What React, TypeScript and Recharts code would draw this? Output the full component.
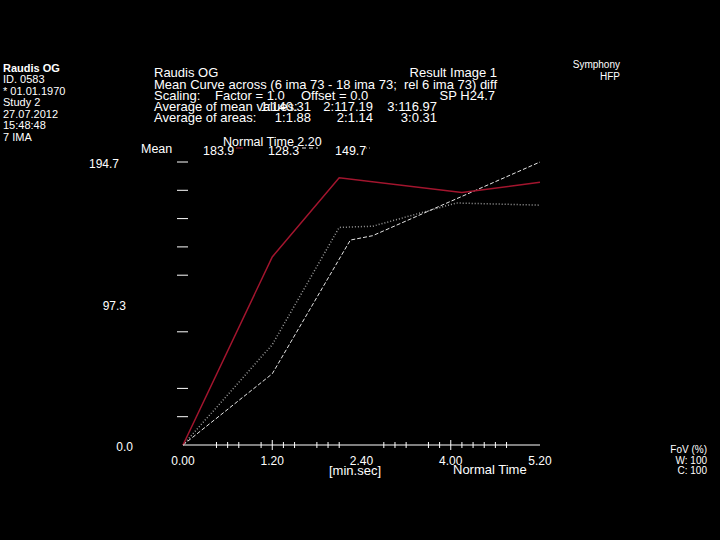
import { Line, LineChart, XAxis, YAxis } from "recharts";

// times in seconds, values in mean signal units
const RED_TIME = [0, 80, 140, 250, 320];
const RED_VALUE = [0, 129.4, 183.9, 173.7, 180.8];

const WHITE_TIME = [0, 80, 150, 170, 320];
const WHITE_VALUE = [0, 49, 141, 144, 194.7];

const GREY_TIME = [0, 80, 140, 170, 245, 320];
const GREY_VALUE = [0, 69, 149.7, 150.5, 166.5, 165];

const X_LABELS = [0, 80, 160, 240, 320];
const X_MAJOR = [80, 240];
const X_MINOR = [30, 40, 50, 70, 90, 100, 120, 130, 140, 180, 190, 200, 220, 230, 250, 260, 270, 280, 290];

const Y_TICKS = [0, 19.47, 38.94, 58.41, 77.88, 97.35, 116.82, 136.29, 155.76, 175.23, 194.7];
const Y_MARKS = [19.47, 38.94, 77.88, 116.82, 136.29, 155.76, 175.23, 194.7];
const Y_LABEL_VALUES = [0, 97.35, 194.7];
const Y_LABEL_TEXT = ["0.0", "97.3", "194.7"];

const PATIENT_LINES = ["Raudis OG", "ID. 0583", "* 01.01.1970", "Study 2", "27.07.2012", "15:48:48", "7 IMA"];
const MEAN_AT_NORMAL = ["183.9", "128.3", "149.7"];
const MEAN_VALUES = ["1:140.31", "2:117.19", "3:116.97"];
const AREA_VALUES = ["1:1.88", "2:1.14", "3:0.31"];

const FONT = "'Liberation Sans', Arial, sans-serif";
const RED = "#a3152e";
const WHITE = "#e6e6e6";
const GREY = "#9c9c9c";

const toSeries = (times: number[], values: number[]) =>
	times.map((t, i) => ({ t, v: values[i] }));

const redData = toSeries(RED_TIME, RED_VALUE);
const whiteData = toSeries(WHITE_TIME, WHITE_VALUE);
const greyData = toSeries(GREY_TIME, GREY_VALUE);

const xTicks = Array.from(new Set([...X_LABELS, ...X_MAJOR, ...X_MINOR])).sort((a, b) => a - b);

function minSec(sec: number) {
	const m = Math.floor(sec / 60);
	const s = sec % 60;
	return `${m}.${s < 10 ? "0" : ""}${s}`;
}

function XTick(props: any) {
	const { x, y, payload } = props;
	const val = payload.value;
	const isMajor = X_MAJOR.includes(val);
	const isMinor = X_MINOR.includes(val);
	return (
		<g>
			{isMajor && <line x1={x} x2={x} y1={y - 5} y2={y + 5} stroke="#fff" />}
			{isMinor && <line x1={x} x2={x} y1={y - 3} y2={y + 3} stroke="#fff" />}
			{X_LABELS.includes(val) && (
				<text x={x} y={y + 20} fill="#fff" fontSize={12} fontFamily={FONT} textAnchor="middle">
					{minSec(val)}
				</text>
			)}
		</g>
	);
}

const yLabelDx = [-50, -57, -64];

function YTick(props: any) {
	const { x, y, payload } = props;
	const val = payload.value;
	const li = Y_LABEL_VALUES.indexOf(val);
	return (
		<g>
			{Y_MARKS.includes(val) && <line x1={x - 6} x2={x + 5} y1={y} y2={y} stroke="#fff" />}
			{li >= 0 && (
				<text x={x + yLabelDx[li]} y={y + 6} fill="#fff" fontSize={12} fontFamily={FONT} textAnchor="end">
					{Y_LABEL_TEXT[li]}
				</text>
			)}
		</g>
	);
}

function Overlay() {
	const txt = { fill: "#fff", fontFamily: FONT };
	return (
		<svg width={720} height={540} style={{ position: "absolute", left: 0, top: 0, pointerEvents: "none" }}>
			{PATIENT_LINES.map((s, i) => (
				<text key={s} x={3} y={[71.5, 83, 94.5, 105.5, 117.5, 129, 140.5][i]} fontSize={11} fontWeight={i === 0 ? "bold" : "normal"} {...txt}>
					{s}
				</text>
			))}

			<g fontSize={13} {...txt}>
				<text x={154} y={77}>Raudis OG</text>
				<text x={497} y={77} textAnchor="end">Result Image 1</text>
				<text x={154} y={88.5}>Mean Curve across (6 ima 73 - 18 ima 73;</text>
				<text x={497} y={88.5} textAnchor="end">rel 6 ima 73) diff</text>
				<text x={154} y={99.5}>Scaling:</text>
				<text x={215} y={99.5}>Factor = 1.0</text>
				<text x={301} y={99.5}>Offset = 0.0</text>
				<text x={495} y={99.5} textAnchor="end">SP H24.7</text>
				<text x={154} y={110.5}>Average of mean values:</text>
				<text x={154} y={121.5}>Average of areas:</text>
				{MEAN_VALUES.map((s, i) => (
					<text key={s} x={[311, 373, 437][i]} y={110.5} textAnchor="end">{s}</text>
				))}
				{AREA_VALUES.map((s, i) => (
					<text key={s} x={[311, 373, 437][i]} y={121.5} textAnchor="end">{s}</text>
				))}
			</g>

			<g fontSize={12.5} {...txt}>
				<text x={223} y={146}>Normal Time 2.20</text>
				<text x={141} y={153}>Mean</text>
				{MEAN_AT_NORMAL.map((s, i) => (
					<text key={s} x={[203, 268, 335][i]} y={155}>{s}</text>
				))}
			</g>

			<g fontSize={13} {...txt}>
				<text x={355} y={475} textAnchor="middle">[min.sec]</text>
				<text x={453} y={474}>Normal Time</text>
			</g>

			<line x1={236} x2={243} y1={148} y2={148} stroke={RED} />
			<line x1={302} x2={318} y1={148} y2={148} stroke={WHITE} strokeDasharray="4 3" />
			<line x1={366} x2={372} y1={148} y2={148} stroke={GREY} strokeDasharray="1 2" />

			<g fontSize={10} {...txt} textAnchor="end">
				<text x={620} y={68}>Symphony</text>
				<text x={620} y={80}>HFP</text>
				<text x={707} y={453}>FoV (%)</text>
				<text x={707} y={463.5}>W: 100</text>
				<text x={707} y={473.5}>C: 100</text>
			</g>
		</svg>
	);
}

export default function App() {
	return (
		<div style={{ position: "fixed", left: 0, top: 0, width: 720, height: 540, background: "#000" }}>
			<LineChart width={720} height={540} margin={{ top: 162, right: 180, bottom: 65, left: 123 }}>
				<XAxis
					type="number"
					dataKey="t"
					domain={[0, 320]}
					ticks={xTicks}
					interval={0}
					height={30}
					tickSize={0}
					tickMargin={0}
					tickLine={false}
					axisLine={{ stroke: "#fff" }}
					tick={<XTick />}
					allowDuplicatedCategory={false}
				/>
				<YAxis
					type="number"
					domain={[0, 194.7]}
					ticks={Y_TICKS}
					interval={0}
					width={60}
					tickSize={0}
					tickMargin={0}
					tickLine={false}
					axisLine={false}
					tick={<YTick />}
				/>
				<Line data={greyData} dataKey="v" stroke={GREY} strokeWidth={1.5} strokeDasharray="1 2" dot={false} isAnimationActive={false} />
				<Line data={whiteData} dataKey="v" stroke={WHITE} strokeWidth={1} strokeDasharray="4 2" dot={false} isAnimationActive={false} />
				<Line data={redData} dataKey="v" stroke={RED} strokeWidth={1.5} dot={false} isAnimationActive={false} />
			</LineChart>
			<Overlay />
		</div>
	);
}
